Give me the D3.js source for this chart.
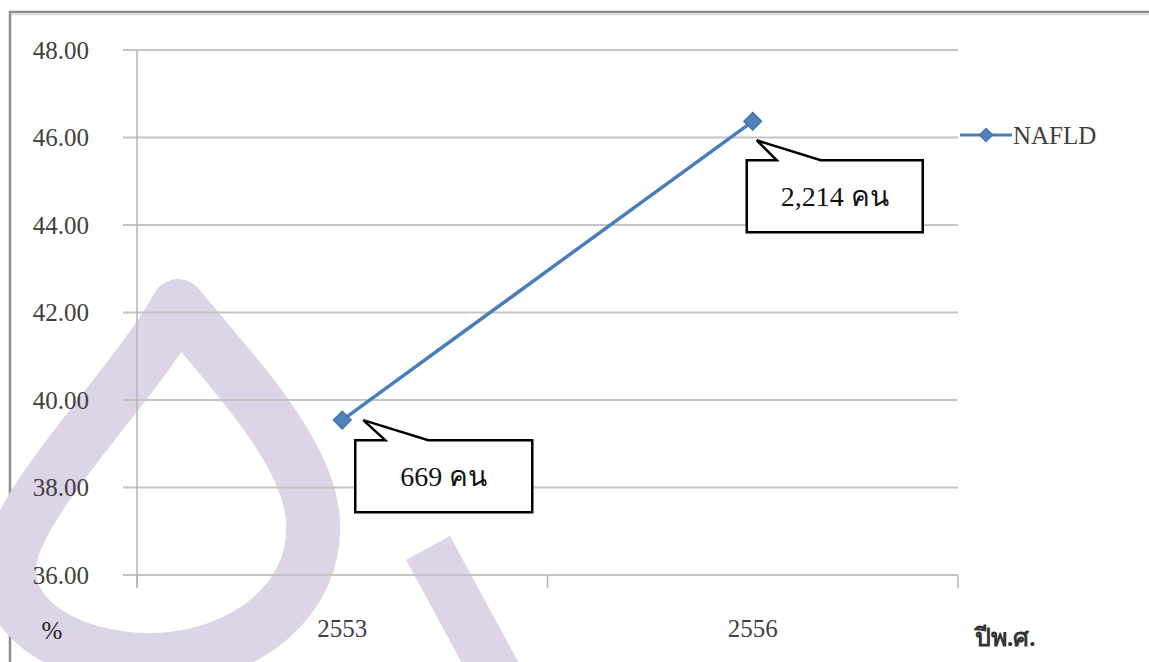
<!DOCTYPE html>
<html>
<head>
<meta charset="utf-8">
<script src="https://cdn.jsdelivr.net/npm/d3@7"></script>
<style>
  html, body { margin: 0; padding: 0; background: #fff; }
  svg { display: block; }
  svg text { font-family: "Liberation Serif", "Times New Roman", Times, serif; }
</style>
</head>
<body>
<svg id="chart" width="1149" height="662"></svg>
<script>
// ---- data ----
const categories = ["2553", "2556"];
const seriesName = "NAFLD";
const values = [39.54, 46.37];
const yTicks = [36, 38, 40, 42, 44, 46, 48];
const calloutTexts = ["669 คน", "2,214 คน"];
const yUnit = "%";
const xTitle = "ปีพ.ศ.";

const svg = d3.select("#chart");
const W = 1149, H = 662;

// outer frame
svg.append("rect").attr("x", 10).attr("y", 12).attr("width", W + 20).attr("height", H + 20)
  .attr("fill", "#fff").attr("stroke", "#8e8e8e").attr("stroke-width", 2.5);
svg.append("line").attr("x1", 12).attr("x2", W).attr("y1", 14.5).attr("y2", 14.5)
  .attr("stroke", "#dcdcdc").attr("stroke-width", 1.5);

// watermark
const wm = svg.append("g").attr("fill", "none").attr("stroke", "#ddd4e8")
  .attr("stroke-linejoin", "round").attr("stroke-linecap", "round");
wm.append("path")
  .attr("d", "M178,306 C138,380 35,480 12,550 C-8,620 75,662 155,660 C245,657 318,600 313,520 C308,450 232,372 178,306 Z")
  .attr("stroke-width", 54);
wm.append("path").attr("d", "M428,548 L505,690").attr("stroke-width", 50).attr("stroke-linecap", "butt");

// scales
const x = d3.scaleBand().domain(categories).range([137, 958]).padding(0);
const y = d3.scaleLinear().domain([36, 48]).range([575, 50]);

// gridlines
svg.append("g").selectAll("line").data(yTicks).join("line")
  .attr("x1", 123).attr("x2", 958)
  .attr("y1", d => y(d)).attr("y2", d => y(d))
  .attr("stroke", "#c4c4c4").attr("stroke-width", 2);

// y axis
const yAxis = d3.axisLeft(y).tickValues(yTicks).tickFormat(d3.format(".2f")).tickSize(0).tickPadding(48);
const gy = svg.append("g").attr("transform", "translate(137,0)").call(yAxis);
gy.attr("font-family", null);
gy.select(".domain").remove();
gy.selectAll("text").attr("font-size", 25).attr("fill", "#404040");
svg.append("line").attr("x1", 137).attr("x2", 137).attr("y1", 50).attr("y2", 587)
  .attr("stroke", "#b4b4b4").attr("stroke-width", 1.5);

// x axis
const xAxis = d3.axisBottom(x).tickSize(0).tickPadding(44);
const gx = svg.append("g").attr("transform", "translate(0,575)").call(xAxis);
gx.attr("font-family", null);
gx.select(".domain").remove();
gx.selectAll("text").attr("font-size", 25).attr("fill", "#404040");
const bounds = categories.map(c => x(c)).concat([x(categories[categories.length - 1]) + x.bandwidth()]);
svg.append("g").selectAll("line").data(bounds).join("line")
  .attr("x1", d => d).attr("x2", d => d).attr("y1", 575).attr("y2", 588)
  .attr("stroke", "#b4b4b4").attr("stroke-width", 1.5);

// axis titles
svg.append("text").attr("x", 52).attr("y", 639).attr("text-anchor", "middle")
  .attr("font-size", 25).attr("fill", "#222").text(yUnit);
svg.append("text").attr("x", 975).attr("y", 646)
  .attr("font-size", 25).attr("font-weight", "bold").attr("fill", "#333").text(xTitle);

// series line
const pts = categories.map((c, i) => [x(c) + x.bandwidth() / 2, y(values[i])]);
svg.append("path").attr("d", d3.line()(pts)).attr("fill", "none")
  .attr("stroke", "#4a7ebb").attr("stroke-width", 3.5);
svg.append("g").selectAll("path").data(pts).join("path")
  .attr("transform", d => `translate(${d[0]},${d[1]}) rotate(45)`)
  .attr("d", d3.symbol().type(d3.symbolSquare).size(165))
  .attr("fill", "#4f81bd").attr("stroke", "#3f6fa8").attr("stroke-width", 1);

// callouts (offsets relative to the point)
const calloutGeom = [
  { tip: [21, 0], box: [13, 20, 177, 72], base: [43, 86] },
  { tip: [4, 19], box: [-6, 39, 176, 72], base: [24, 68] }
];
pts.forEach((p, i) => {
  const g = calloutGeom[i];
  const bx = p[0] + g.box[0], by = p[1] + g.box[1], bw = g.box[2], bh = g.box[3];
  const tx = p[0] + g.tip[0], ty = p[1] + g.tip[1];
  const path = [
    [bx, by], [p[0] + g.base[0], by], [tx, ty], [p[0] + g.base[1], by],
    [bx + bw, by], [bx + bw, by + bh], [bx, by + bh]
  ];
  svg.append("path").attr("d", d3.line()(path) + "Z")
    .attr("fill", "#fff").attr("stroke", "#000").attr("stroke-width", 2.5).attr("stroke-linejoin", "miter");
  const parts = calloutTexts[i].split(" ");
  const baseY = by + bh / 2 + 10;
  const t1 = svg.append("text").attr("y", baseY).attr("font-size", 28).attr("fill", "#111").text(parts[0]);
  const t2 = svg.append("text").attr("y", baseY).attr("font-size", 28).attr("fill", "#111").text(parts.slice(1).join(" "));
  const w1 = t1.node().getComputedTextLength();
  const w2 = t2.node().getComputedTextLength();
  const gap = 7;
  const start = bx + bw / 2 - (w1 + gap + w2) / 2;
  t1.attr("x", start);
  t2.attr("x", start + w1 + gap);
});

// legend
const lg = svg.append("g").attr("transform", "translate(960,135)");
lg.append("line").attr("x1", 0).attr("x2", 52).attr("y1", 0).attr("y2", 0)
  .attr("stroke", "#4a7ebb").attr("stroke-width", 3);
lg.append("path").attr("transform", "translate(26,0) rotate(45)")
  .attr("d", d3.symbol().type(d3.symbolSquare).size(90))
  .attr("fill", "#4f81bd").attr("stroke", "#3f6fa8").attr("stroke-width", 1);
lg.append("text").attr("x", 53).attr("y", 9).attr("font-size", 25)
  .attr("fill", "#404040").text(seriesName);
</script>
</body>
</html>
